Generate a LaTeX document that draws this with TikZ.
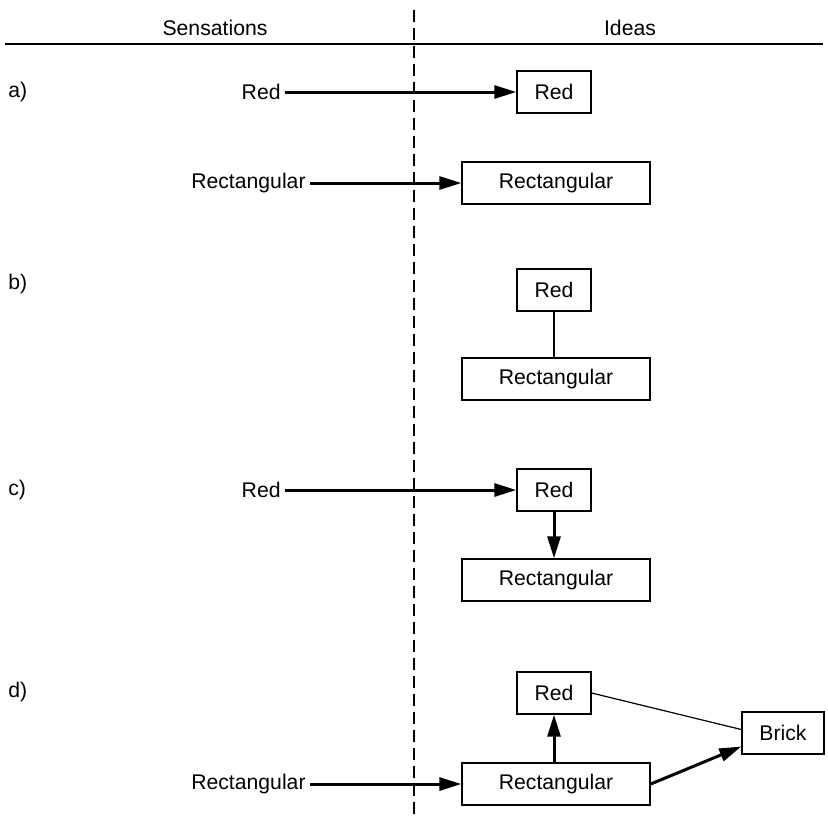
\documentclass[tikz,border=0pt]{standalone}
\usepackage{fontspec}
\setmainfont{Liberation Sans}
\usetikzlibrary{arrows.meta}

\begin{document}
\begin{tikzpicture}[x=0.5pt, y=-0.5pt,
    every node/.style={font=\fontsize{10.6}{12}\selectfont},
    idea/.style={draw, line width=0.7pt, minimum height=21pt, inner sep=0pt},
    short-idea/.style={idea, minimum width=37pt},
    long-idea/.style={idea, minimum width=94pt},
    sense/.style={anchor=east, inner sep=2pt},
    case/.style={anchor=west, inner sep=0pt},
    feed/.style={line width=1.5pt, -{Triangle[length=11pt, width=6.5pt]}},
    link/.style={line width=0.6pt}
]
    \useasboundingbox (0,0) rectangle (828,821);

    % Header
    \node (sens) at (215,28) {Sensations};
    \node (ideas) at (630,28) {Ideas};
    \draw[line width=0.9pt] (5,44) -- (823,44);
    \draw[line width=0.6pt, dash pattern=on 6pt off 3pt] (414,10) -- (414,816);

    % Case a
    \node[case] (la) at (8,92) {a)};
    \node[sense] (sa1) at (285,92) {Red};
    \node[short-idea] (ia1) at (554,92) {Red};
    \draw[feed] (sa1) -- (ia1);
    \node[sense] (sa2) at (310,183) {Rectangular};
    \node[long-idea] (ia2) at (556,183) {Rectangular};
    \draw[feed] (sa2) -- (ia2);

    % Case b
    \node[case] (lb) at (8,284) {b)};
    \node[short-idea] (ib1) at (554,290) {Red};
    \node[long-idea] (ib2) at (556,379) {Rectangular};
    \draw[link] (ib1.south) -- (ib1.south |- ib2.north);

    % Case c
    \node[case] (lc) at (8,490) {c)};
    \node[sense] (sc1) at (285,490) {Red};
    \node[short-idea] (ic1) at (554,490) {Red};
    \draw[feed] (sc1) -- (ic1);
    \node[long-idea] (ic2) at (556,580) {Rectangular};
    \draw[feed] (ic1.south) -- (ic1.south |- ic2.north);

    % Case d
    \node[case] (ld) at (8,692) {d)};
    \node[short-idea] (id1) at (554,693) {Red};
    \node[sense] (sd2) at (310,784) {Rectangular};
    \node[long-idea] (id2) at (556,784) {Rectangular};
    \node[idea, minimum width=41pt] (brick) at (783,733) {Brick};
    \draw[feed] (sd2) -- (id2);
    \draw[feed] (id2.north -| id1.south) -- (id1.south);
    \draw[link] (id1.east) -- ([yshift=1.75pt]brick.west);
    \draw[feed] (id2.east) -- ([yshift=-6.75pt]brick.west);
\end{tikzpicture}
\end{document}
